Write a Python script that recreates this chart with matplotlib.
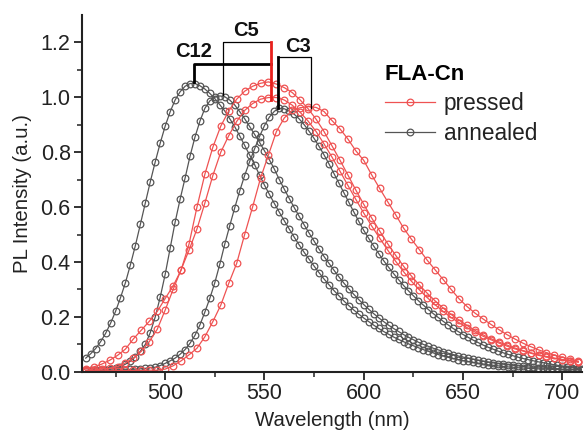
import numpy as np
import matplotlib
matplotlib.use("Agg")
import matplotlib.pyplot as plt

plt.rcParams["font.family"] = ["Liberation Sans", "DejaVu Sans"]

# annealed spectra, sampled every 2.5 nm from 460 nm
gray_start, gray_step = 460.0, 2.5
annealed_c12 = [
    0.05, 0.066, 0.085, 0.11, 0.14, 0.177, 0.22, 0.27, 0.325, 0.39,
    0.46, 0.537, 0.615, 0.692, 0.765, 0.833, 0.895, 0.947, 0.99, 1.02,
    1.04, 1.05, 1.05, 1.042, 1.03, 1.014, 0.995, 0.973, 0.95, 0.922,
    0.893, 0.86, 0.825, 0.79, 0.755, 0.717, 0.68, 0.646, 0.613, 0.581,
    0.55, 0.52, 0.49, 0.462, 0.435, 0.41, 0.385, 0.361, 0.338, 0.317,
    0.296, 0.277, 0.258, 0.241, 0.225, 0.21, 0.196, 0.183, 0.17, 0.158,
    0.147, 0.137, 0.127, 0.118, 0.11, 0.102, 0.095, 0.088, 0.081, 0.075,
    0.069, 0.063, 0.058, 0.053, 0.049, 0.045, 0.041, 0.038, 0.035, 0.032,
    0.029, 0.026, 0.024, 0.022, 0.02, 0.018, 0.017, 0.015, 0.014, 0.013,
    0.012, 0.011, 0.01, 0.01, 0.009, 0.009, 0.008, 0.008, 0.007, 0.007,
    0.006,
]
annealed_c5 = [
    0.003, 0.003, 0.004, 0.005, 0.007, 0.01, 0.013, 0.019, 0.028, 0.039,
    0.055, 0.075, 0.1, 0.143, 0.2, 0.272, 0.355, 0.45, 0.545, 0.628,
    0.705, 0.785, 0.855, 0.913, 0.96, 0.987, 1.0, 1.005, 1.002, 0.99,
    0.972, 0.948, 0.922, 0.894, 0.865, 0.836, 0.805, 0.772, 0.738, 0.7,
    0.665, 0.631, 0.598, 0.566, 0.535, 0.505, 0.476, 0.447, 0.42, 0.395,
    0.37, 0.346, 0.323, 0.302, 0.282, 0.263, 0.245, 0.228, 0.212, 0.197,
    0.183, 0.17, 0.158, 0.147, 0.136, 0.126, 0.117, 0.108, 0.1, 0.093,
    0.086, 0.08, 0.074, 0.068, 0.063, 0.058, 0.054, 0.05, 0.046, 0.042,
    0.039, 0.036, 0.033, 0.03, 0.028, 0.026, 0.024, 0.022, 0.02, 0.018,
    0.017, 0.015, 0.014, 0.013, 0.012, 0.011, 0.01, 0.01, 0.009, 0.009,
    0.008,
]
annealed_c3 = [
    0.005, 0.005, 0.005, 0.006, 0.006, 0.006, 0.007, 0.007, 0.008, 0.009,
    0.01, 0.011, 0.013, 0.015, 0.017, 0.023, 0.031, 0.04, 0.05, 0.064,
    0.081, 0.104, 0.133, 0.171, 0.218, 0.268, 0.325, 0.392, 0.465, 0.532,
    0.597, 0.658, 0.715, 0.765, 0.812, 0.857, 0.897, 0.928, 0.949, 0.96,
    0.958, 0.95, 0.938, 0.921, 0.9, 0.876, 0.85, 0.821, 0.79, 0.757,
    0.722, 0.687, 0.652, 0.617, 0.582, 0.548, 0.515, 0.486, 0.458, 0.431,
    0.405, 0.381, 0.358, 0.336, 0.315, 0.295, 0.277, 0.259, 0.243, 0.227,
    0.212, 0.198, 0.184, 0.171, 0.158, 0.147, 0.136, 0.126, 0.116, 0.107,
    0.098, 0.09, 0.083, 0.076, 0.07, 0.064, 0.059, 0.054, 0.049, 0.045,
    0.041, 0.037, 0.034, 0.03, 0.027, 0.024, 0.021, 0.018, 0.015, 0.012,
    0.01,
]

# pressed spectra, sampled every 4 nm from 460 nm
red_start, red_step = 460.0, 4.0
pressed_c12 = [
    0.01, 0.018, 0.028, 0.042, 0.06, 0.083, 0.12, 0.152, 0.184, 0.22,
    0.267, 0.313, 0.37, 0.465, 0.6, 0.72, 0.818, 0.895, 0.95, 0.993,
    1.022, 1.04, 1.051, 1.056, 1.048, 1.035, 1.017, 0.99, 0.958, 0.92,
    0.875, 0.823, 0.771, 0.717, 0.662, 0.61, 0.56, 0.513, 0.467, 0.425,
    0.385, 0.349, 0.316, 0.286, 0.258, 0.232, 0.209, 0.188, 0.169, 0.151,
    0.135, 0.121, 0.109, 0.098, 0.087, 0.078, 0.07, 0.062, 0.056, 0.05,
    0.045, 0.041, 0.037,
]
pressed_c5 = [
    0.005, 0.007, 0.01, 0.013, 0.019, 0.033, 0.05, 0.075, 0.11, 0.155,
    0.225, 0.3, 0.372, 0.443, 0.52, 0.615, 0.715, 0.8, 0.86, 0.912,
    0.952, 0.977, 0.993, 0.999, 0.999, 0.99, 0.971, 0.945, 0.913, 0.875,
    0.83, 0.782, 0.731, 0.679, 0.628, 0.578, 0.531, 0.487, 0.444, 0.403,
    0.365, 0.33, 0.299, 0.27, 0.244, 0.22, 0.198, 0.179, 0.161, 0.145,
    0.13, 0.117, 0.105, 0.094, 0.084, 0.076, 0.068, 0.06, 0.054, 0.049,
    0.043, 0.039, 0.035,
]
pressed_c3 = [
    0.003, 0.003, 0.004, 0.004, 0.004, 0.005, 0.005, 0.005, 0.006, 0.006,
    0.01, 0.022, 0.04, 0.062, 0.086, 0.128, 0.183, 0.243, 0.322, 0.395,
    0.5, 0.6, 0.705, 0.79, 0.875, 0.925, 0.952, 0.962, 0.966, 0.963,
    0.948, 0.915, 0.885, 0.848, 0.805, 0.77, 0.717, 0.668, 0.62, 0.573,
    0.524, 0.483, 0.445, 0.406, 0.371, 0.336, 0.3, 0.266, 0.238, 0.214,
    0.193, 0.173, 0.154, 0.136, 0.12, 0.105, 0.092, 0.08, 0.07, 0.061,
    0.053, 0.046, 0.039,
]

# peak positions used by the brackets (nm, intensity)
peak_labels = ["C12", "C5", "C3"]
peak_annealed = [(514.3, 1.056), (529.0, 1.008), (556.8, 0.96)]
peak_pressed = [(553.4, 0.99), (553.4, 0.99), (573.6, 0.962)]
bracket_y = [1.12, 1.202, 1.148]

RED = "#ef5252"
GRAY = "#555555"
INK = "#222222"

fig = plt.figure(figsize=(5.84, 4.38), dpi=100)
ax = fig.add_axes([0.140, 0.151, 0.857, 0.815])

wl_gray = gray_start + gray_step * np.arange(len(annealed_c12))
wl_red = red_start + red_step * np.arange(len(pressed_c12))

style = dict(marker="o", markersize=4.8, mfc="none", mew=0.9, lw=0.9)
for ys in [annealed_c12, annealed_c5, annealed_c3]:
    ax.plot(wl_gray, ys, color=GRAY, **style)
for ys in [pressed_c12, pressed_c5, pressed_c3]:
    ax.plot(wl_red, ys, color=RED, **style)

# brackets linking annealed and pressed peaks
(x12a, y12a), (x5a, y5a), (x3a, y3a) = peak_annealed
(x12p, _), (x5p, y5p), (x3p, y3p) = peak_pressed
b12, b5, b3 = bracket_y

ax.plot([x5a, x5a, x5p], [y5a, b5, b5], color="k", lw=0.9)
ax.plot([x12a, x12a, x12p], [y12a, b12, b12], color="k", lw=2.0)
ax.plot([x5p, x5p], [b5, y5p], color="#e8201c", lw=2.0)
ax.plot([x3a, x3a], [y3a, b3], color="k", lw=2.0)
ax.plot([x3a, x3p, x3p], [b3, b3, y3p], color="k", lw=0.9)

label_pos = [(514.5, 1.165), (540.8, 1.243), (567.0, 1.186)]
for name, (lx, ly) in zip(peak_labels, label_pos):
    ax.text(lx, ly, name, ha="center", va="center", fontsize=14.5,
            fontweight="bold", color="#111111")

ax.set_xlim(458, 710)
ax.set_ylim(0, 1.3)
ax.set_xticks([500, 550, 600, 650, 700])
ax.set_xticks(np.arange(475, 710, 50), minor=True)
ax.set_yticks([0.0, 0.2, 0.4, 0.6, 0.8, 1.0, 1.2])
ax.set_yticks(np.arange(0.1, 1.3, 0.2), minor=True)
ax.set_yticklabels(["0.0", "0.2", "0.4", "0.6", "0.8", "1.0", "1.2"])

for side in ["top", "right"]:
    ax.spines[side].set_visible(False)
for side in ["left", "bottom"]:
    ax.spines[side].set_linewidth(1.5)
    ax.spines[side].set_color(INK)
ax.tick_params(which="major", direction="out", length=6, width=1.3,
               labelsize=15.5, colors=INK, pad=2)
ax.tick_params(which="minor", direction="out", length=3.5, width=1.1,
               colors=INK)

ax.set_xlabel("Wavelength (nm)", fontsize=14.7, color=INK, labelpad=5)
ax.set_ylabel("PL Intensity (a.u.)", fontsize=14.7, color=INK, labelpad=6)

handles = [
    plt.Line2D([], [], color=RED, **style),
    plt.Line2D([], [], color=GRAY, **style),
]
leg = ax.legend(handles, ["pressed", "annealed"], loc="upper left",
                bbox_to_anchor=(0.583, 0.893), frameon=False, fontsize=16.3,
                title="FLA-Cn", title_fontproperties={"weight": "bold", "size": 16},
                alignment="left", handlelength=2.2, handletextpad=0.4,
                labelspacing=0.3, borderpad=0.0, labelcolor=INK)

fig.savefig("out.png", dpi=100)
